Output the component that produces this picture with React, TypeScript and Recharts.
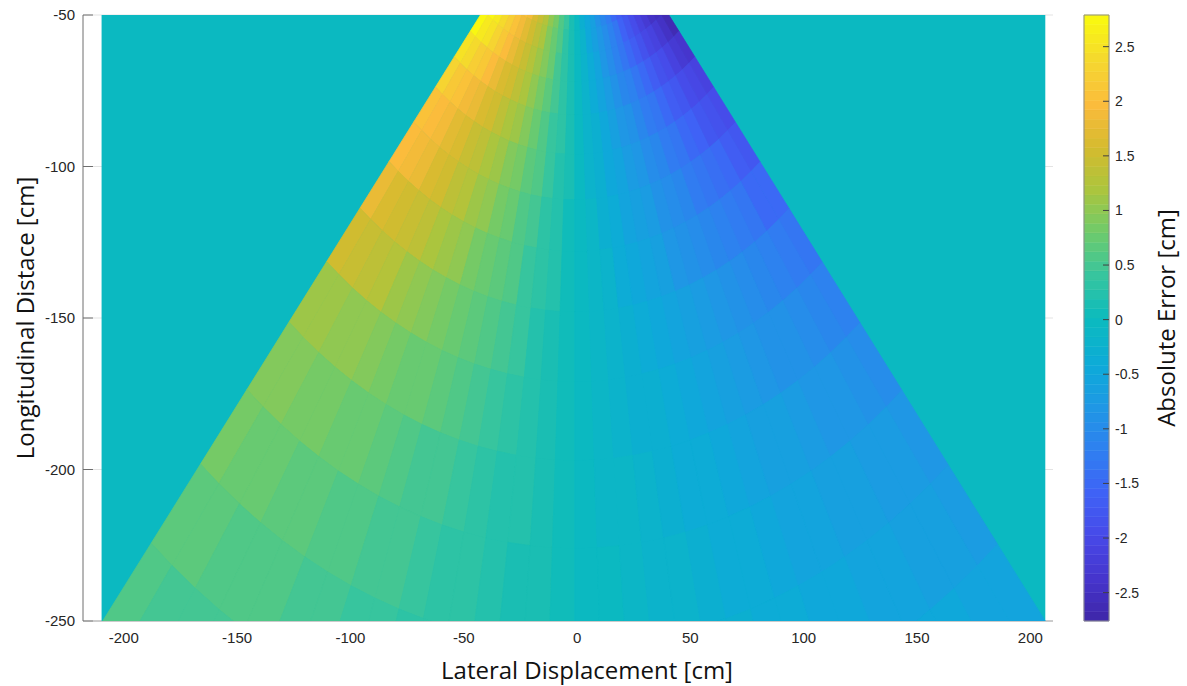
import React from "react";
import {
  ScatterChart,
  Scatter,
  ComposedChart,
  XAxis,
  YAxis,
  CartesianGrid,
  ReferenceArea,
  ReferenceLine,
} from "recharts";

// sensor position and the polar measurement grid (bearing in degrees, range in cm)
const apex = { x: -1, y: 0 };
const angleEdges = [
  -39.8, -37.5, -35, -32.5, -30, -27.5, -25, -22.5, -20, -17.5, -15, -12.5, -10, -7.5, -5, -2.5, 0, 2.5, 5, 7.5, 10,
  12.5, 15, 17.5, 20, 22.5, 25, 27.5, 30, 32.5, 35, 37.5, 39.7,
];
const rangeEdges = [48, 55, 63, 72, 83, 96, 111, 128, 148, 171, 197, 226, 258, 292, 331];

// absolute error [cm] per cell: rows = range bands near -> far, columns = bearing left -> right
const errorRows = [
  [3.15, 2.98, 2.81, 2.63, 2.44, 2.25, 2.06, 1.86, 1.66, 1.45, 1.24, 1.03, 0.82, 0.61, 0.39, 0.18, -0.04, -0.25, -0.46, -0.67, -0.87, -1.08, -1.28, -1.49, -1.68, -1.88, -2.07, -2.26, -2.44, -2.62, -2.79, -2.95],
  [2.91, 2.76, 2.59, 2.43, 2.26, 2.08, 1.9, 1.72, 1.53, 1.34, 1.15, 0.96, 0.76, 0.56, 0.36, 0.16, -0.04, -0.23, -0.42, -0.62, -0.81, -1.0, -1.19, -1.37, -1.56, -1.74, -1.91, -2.09, -2.26, -2.42, -2.58, -2.73],
  [2.75, 2.61, 2.46, 2.3, 2.14, 1.97, 1.8, 1.63, 1.45, 1.27, 1.09, 0.91, 0.72, 0.53, 0.34, 0.15, -0.03, -0.22, -0.4, -0.58, -0.77, -0.95, -1.12, -1.3, -1.47, -1.65, -1.81, -1.98, -2.14, -2.29, -2.45, -2.59],
  [2.52, 2.39, 2.25, 2.11, 1.96, 1.8, 1.65, 1.49, 1.33, 1.16, 1.0, 0.83, 0.66, 0.49, 0.31, 0.14, -0.03, -0.2, -0.37, -0.53, -0.7, -0.87, -1.03, -1.19, -1.35, -1.51, -1.66, -1.81, -1.96, -2.1, -2.24, -2.37],
  [2.29, 2.17, 2.04, 1.91, 1.78, 1.64, 1.5, 1.35, 1.21, 1.06, 0.91, 0.75, 0.6, 0.44, 0.29, 0.13, -0.03, -0.18, -0.33, -0.49, -0.64, -0.79, -0.93, -1.08, -1.23, -1.37, -1.51, -1.64, -1.78, -1.91, -2.03, -2.15],
  [2.07, 1.97, 1.85, 1.73, 1.61, 1.48, 1.36, 1.22, 1.09, 0.96, 0.82, 0.68, 0.54, 0.4, 0.26, 0.12, -0.03, -0.16, -0.3, -0.44, -0.58, -0.71, -0.85, -0.98, -1.11, -1.24, -1.36, -1.49, -1.61, -1.73, -1.84, -1.95],
  [2.0, 1.88, 1.75, 1.63, 1.5, 1.37, 1.23, 1.11, 0.98, 0.86, 0.73, 0.61, 0.48, 0.36, 0.23, 0.1, -0.02, -0.15, -0.27, -0.39, -0.52, -0.64, -0.76, -0.88, -0.99, -1.11, -1.22, -1.33, -1.44, -1.54, -1.65, -1.74],
  [1.77, 1.66, 1.55, 1.44, 1.32, 1.21, 1.09, 0.98, 0.86, 0.76, 0.65, 0.54, 0.43, 0.32, 0.2, 0.09, -0.02, -0.13, -0.24, -0.35, -0.46, -0.56, -0.67, -0.77, -0.88, -0.98, -1.08, -1.18, -1.27, -1.37, -1.46, -1.54],
  [1.53, 1.44, 1.35, 1.25, 1.14, 1.05, 0.95, 0.85, 0.75, 0.66, 0.56, 0.47, 0.37, 0.27, 0.18, 0.08, -0.02, -0.11, -0.21, -0.3, -0.39, -0.49, -0.58, -0.67, -0.76, -0.85, -0.93, -1.02, -1.1, -1.18, -1.26, -1.33],
  [1.12, 1.07, 1.02, 0.98, 0.93, 0.86, 0.79, 0.71, 0.63, 0.56, 0.48, 0.4, 0.31, 0.23, 0.15, 0.07, -0.01, -0.09, -0.18, -0.26, -0.33, -0.41, -0.49, -0.57, -0.64, -0.72, -0.79, -0.86, -0.93, -1.0, -1.07, -1.13],
  [0.95, 0.9, 0.86, 0.83, 0.79, 0.73, 0.66, 0.6, 0.53, 0.47, 0.4, 0.33, 0.26, 0.2, 0.13, 0.06, -0.01, -0.08, -0.15, -0.22, -0.28, -0.35, -0.41, -0.48, -0.54, -0.61, -0.67, -0.73, -0.79, -0.85, -0.9, -0.95],
  [0.8, 0.77, 0.73, 0.7, 0.67, 0.61, 0.56, 0.51, 0.45, 0.4, 0.34, 0.28, 0.22, 0.17, 0.11, 0.05, -0.01, -0.07, -0.12, -0.18, -0.24, -0.29, -0.35, -0.41, -0.46, -0.51, -0.56, -0.62, -0.67, -0.71, -0.76, -0.81],
  [0.67, 0.64, 0.61, 0.58, 0.56, 0.52, 0.47, 0.43, 0.38, 0.33, 0.28, 0.24, 0.19, 0.14, 0.09, 0.04, -0.01, -0.06, -0.1, -0.15, -0.2, -0.25, -0.29, -0.34, -0.39, -0.43, -0.47, -0.52, -0.56, -0.6, -0.64, -0.68],
  [0.56, 0.53, 0.5, 0.48, 0.46, 0.43, 0.39, 0.35, 0.31, 0.28, 0.24, 0.2, 0.16, 0.12, 0.07, 0.03, -0.01, -0.05, -0.09, -0.13, -0.17, -0.2, -0.24, -0.28, -0.32, -0.36, -0.39, -0.43, -0.46, -0.5, -0.53, -0.56],
];

// extent of the evaluated grid (outside the field of view the error is 0)
const gridX = [-209.8, 206.6];
const gridY = [-250, -50];

const xDomain = [-218, 210];
const yDomain = [-250, -50];
const xTicks = [-200, -150, -100, -50, 0, 50, 100, 150, 200];
const yTicks = [-250, -200, -150, -100, -50];

const cbLimits = [-2.76, 2.79];
const cbTicks = [-2.5, -2, -1.5, -1, -0.5, 0, 0.5, 1, 1.5, 2, 2.5];

// parula-like colormap
const parulaStops: [number, string][] = [
  [0.0, "#3E26A8"],
  [0.07, "#4635CD"],
  [0.14, "#4749E8"],
  [0.21, "#3F62F6"],
  [0.28, "#2F7FF0"],
  [0.35, "#1F97E5"],
  [0.42, "#0DAAD9"],
  [0.5, "#0BBBBE"],
  [0.57, "#37C59E"],
  [0.64, "#6ECB6C"],
  [0.71, "#AAC53E"],
  [0.78, "#D4BB2E"],
  [0.85, "#FBBB3C"],
  [0.92, "#F5D630"],
  [1.0, "#F9FB0E"],
];
const LEVELS = 64;

const hex = (h: string) => [1, 3, 5].map((i) => parseInt(h.slice(i, i + 2), 16));
const sampleMap = (t: number) => {
  let k = 0;
  while (k < parulaStops.length - 2 && t > parulaStops[k + 1][0]) k++;
  const [t0, c0] = parulaStops[k];
  const [t1, c1] = parulaStops[k + 1];
  const f = Math.min(1, Math.max(0, (t - t0) / (t1 - t0)));
  const a = hex(c0);
  const b = hex(c1);
  return `rgb(${a.map((v, i) => Math.round(v + (b[i] - v) * f)).join(",")})`;
};
const levelColors = Array.from({ length: LEVELS }, (_, i) => sampleMap((i + 0.5) / LEVELS));
const colorOf = (v: number) => {
  const t = (v - cbLimits[0]) / (cbLimits[1] - cbLimits[0]);
  const i = Math.min(LEVELS - 1, Math.max(0, Math.floor(t * LEVELS)));
  return levelColors[i];
};

const rad = Math.PI / 180;
const nodes = rangeEdges.flatMap((r) =>
  angleEdges.map((a) => ({ x: apex.x + r * Math.sin(a * rad), y: apex.y - r * Math.cos(a * rad) }))
);
const bgCorners = [
  { x: gridX[0], y: gridY[0] },
  { x: gridX[1], y: gridY[0] },
  { x: gridX[1], y: gridY[1] },
  { x: gridX[0], y: gridY[1] },
];

const noPoint = () => <g />;

const renderBg = (props: any) => {
  const p = props.points || [];
  if (p.length < 4) return <g />;
  const c = colorOf(0);
  return <polygon points={p.map((q: any) => `${q.x},${q.y}`).join(" ")} fill={c} stroke="none" />;
};

const nA = angleEdges.length;
const renderCells = (props: any) => {
  const p = props.points || [];
  if (p.length < nodes.length) return <g />;
  const polys: React.ReactElement[] = [];
  errorRows.forEach((row, i) =>
    row.forEach((v, j) => {
      const idx = [i * nA + j, i * nA + j + 1, (i + 1) * nA + j + 1, (i + 1) * nA + j];
      const c = colorOf(v);
      polys.push(
        <polygon
          key={`${i}-${j}`}
          points={idx.map((n) => `${p[n].x},${p[n].y}`).join(" ")}
          fill={c}
          stroke={c}
          strokeWidth={0.8}
          strokeLinejoin="round"
        />
      );
    })
  );
  return <g>{polys}</g>;
};

const tickFont = { fill: "#262626", fontSize: 15, fontFamily: "'Liberation Sans', Arial, sans-serif" };
const titleFont = { fontFamily: "'Open Sans', 'Noto Sans', sans-serif", fontSize: 24, fill: "#111" };

const cbStep = (cbLimits[1] - cbLimits[0]) / LEVELS;

export default function App() {
  return (
    <div style={{ position: "absolute", left: 0, top: 0, width: 1187, height: 686, background: "#fff" }}>
      <div style={{ position: "absolute", left: 0, top: 0 }}>
        <ScatterChart width={1187} height={686} margin={{ top: 15, right: 134, bottom: 0, left: 0 }}>
          <CartesianGrid vertical={false} stroke="#E3E3E3" />
          <XAxis
            type="number"
            dataKey="x"
            domain={xDomain}
            ticks={xTicks}
            allowDataOverflow
            height={65}
            tickLine={false}
            tickMargin={5}
            stroke="#A6A6A6"
            tick={tickFont}
          />
          <YAxis
            type="number"
            dataKey="y"
            domain={yDomain}
            ticks={yTicks}
            allowDataOverflow
            width={83}
            tickLine={false}
            stroke="#6E6E6E"
            tick={tickFont}
          />
          <Scatter data={bgCorners} line={renderBg} shape={noPoint} legendType="none" isAnimationActive={false} />
          <Scatter data={nodes} line={renderCells} shape={noPoint} legendType="none" isAnimationActive={false} />
          {yTicks.map((t) => (
            <ReferenceLine
              key={t}
              segment={[
                { x: xDomain[0], y: t },
                { x: xDomain[0] + 4.4, y: t },
              ]}
              stroke="#6E6E6E"
              ifOverflow="visible"
            />
          ))}
        </ScatterChart>
      </div>

      <div style={{ position: "absolute", left: 1060, top: 0 }}>
        <ComposedChart
          width={127}
          height={686}
          data={[{ x: 0 }, { x: 1 }]}
          margin={{ top: 15, right: 0, bottom: 65, left: 24 }}
        >
          <XAxis type="number" dataKey="x" domain={[0, 1]} hide />
          <YAxis
            type="number"
            orientation="right"
            domain={cbLimits}
            ticks={cbTicks}
            allowDataOverflow
            width={78}
            axisLine={false}
            tickLine={false}
            tickMargin={0}
            tick={{ ...tickFont, fontSize: 14 }}
          />
          {levelColors.map((c, i) => (
            <ReferenceArea
              key={i}
              x1={0}
              x2={1}
              y1={cbLimits[0] + i * cbStep}
              y2={cbLimits[0] + (i + 1) * cbStep}
              fill={c}
              fillOpacity={1}
              stroke={c}
              strokeWidth={0.5}
            />
          ))}
          <ReferenceArea x1={0} x2={1} y1={cbLimits[0]} y2={cbLimits[1]} fill="none" stroke="#8C8C8C" />
          {cbTicks.map((t) => (
            <ReferenceLine
              key={t}
              segment={[
                { x: 0.76, y: t },
                { x: 1, y: t },
              ]}
              stroke="#404040"
            />
          ))}
        </ComposedChart>
      </div>

      <svg
        width={1187}
        height={686}
        style={{ position: "absolute", left: 0, top: 0, pointerEvents: "none" }}
      >
        <text x={587} y={679} textAnchor="middle" {...titleFont}>
          Lateral Displacement [cm]
        </text>
        <text x={34} y={318} textAnchor="middle" transform="rotate(-90 34 318)" {...titleFont}>
          Longitudinal Distace [cm]
        </text>
        <text x={1175} y={318} textAnchor="middle" transform="rotate(-90 1175 318)" {...titleFont}>
          Absolute Error [cm]
        </text>
      </svg>
    </div>
  );
}
